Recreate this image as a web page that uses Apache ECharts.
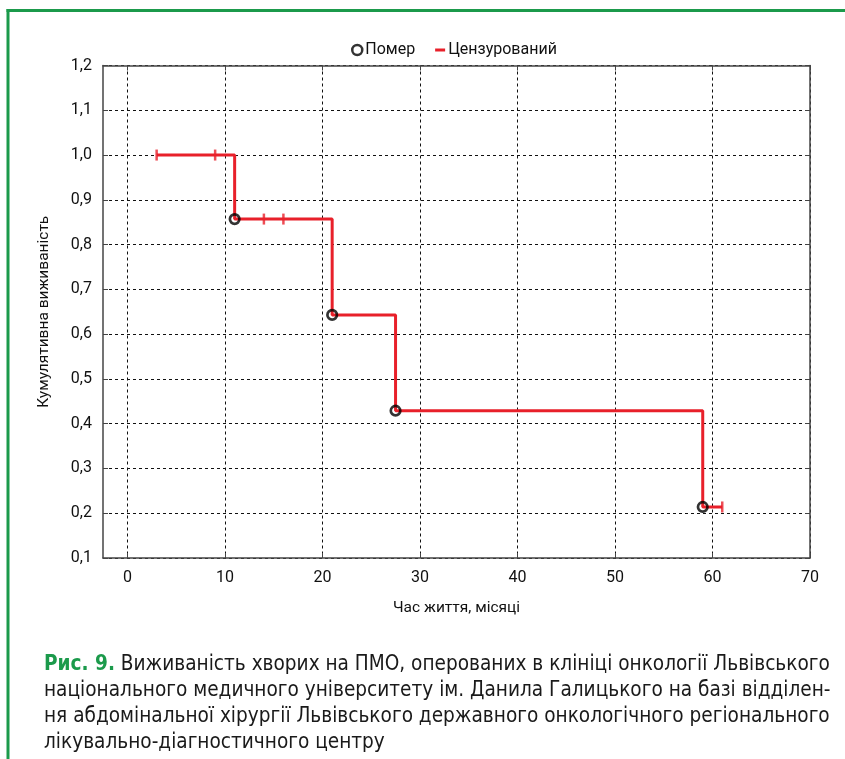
<!DOCTYPE html>
<html><head><meta charset="utf-8">
<script src="https://cdn.jsdelivr.net/npm/echarts@6/dist/echarts.min.js"></script>
<style>html,body{margin:0;padding:0;background:#fff}#c{width:845px;height:759px}</style>
</head><body><div id="c"></div>
<script>
// KM step curve
const stepTimes = [3, 11, 21, 27.5, 59, 61];
const stepSurv  = [1.0, 0.857, 0.643, 0.429, 0.214, 0.214];
// deaths
const deathTimes = [11, 21, 27.5, 59];
const deathSurv  = [0.857, 0.643, 0.429, 0.214];
// censored
const censTimes = [3, 9, 14, 16, 61];
const censSurv  = [1.0, 1.0, 0.857, 0.857, 0.214];
// ticks
const xTicks = [0, 10, 20, 30, 40, 50, 60, 70];
const yTicks = [0.1, 0.2, 0.3, 0.4, 0.5, 0.6, 0.7, 0.8, 0.9, 1.0, 1.1, 1.2];
const captionLines = [
  "Виживаність хворих на ПМО, оперованих в клініці онкології Львівського",
  "національного медичного університету ім. Данила Галицького на базі відділен-",
  "ня абдомінальної хірургії Львівського державного онкологічного регіонального",
  "лікувально-діагностичного центру"
];

const chart = echarts.init(document.getElementById('c'));
const FONT = 'Roboto, "Noto Sans", sans-serif';
const CAPFONT = '"Liberation Sans Narrow", "DejaVu Sans Condensed", "Liberation Sans", sans-serif';
const green = '#1b9a4b';
const red = '#e8202a';
const fmt = v => (Math.round(v*10)/10).toFixed(1).replace('.', ',');
const zip = (a, b) => a.map((v, i) => [v, b[i]]);

const gridLine = {show: true, lineStyle: {color: '#111', type: [3, 3], width: 1}};
const axisLine = {show: true, onZero: false, lineStyle: {color: '#444', width: 1.5}};

chart.setOption({
  animation: false,
  textStyle: {fontFamily: FONT},
  legend: {
    top: 37, left: 346, itemGap: 20, itemWidth: 10, itemHeight: 10,
    textStyle: {fontFamily: FONT, fontSize: 16, color: '#111', padding: [0, 0, 0, -2]},
    data: [
      {name: 'Помер', icon: 'circle', itemStyle: {color: '#fff', borderColor: '#000', borderWidth: 2.5}},
      {name: 'Цензурований', icon: 'path://M0,3.5 L10,3.5 L10,6.5 L0,6.5 Z', itemStyle: {color: red}}
    ]
  },
  grid: {left: 103, right: 35, top: 65.5, bottom: 201, show: false},
  xAxis: [{
    type: 'value', min: -2.5, max: 70, position: 'bottom',
    name: 'Час життя, місяці', nameLocation: 'middle', nameGap: 42,
    nameTextStyle: {fontSize: 15.5, color: '#111', fontFamily: FONT},
    axisLine: axisLine,
    axisTick: {show: true, inside: true, length: 5, customValues: xTicks, lineStyle: {color: '#444'}},
    axisLabel: {customValues: xTicks, fontSize: 16, color: '#111', margin: 12},
    splitLine: gridLine
  }, {
    type: 'value', min: -2.5, max: 70, position: 'top',
    axisLine: axisLine,
    axisTick: {show: true, inside: true, length: 5, customValues: xTicks, lineStyle: {color: '#444'}},
    axisLabel: {show: false, customValues: xTicks},
    splitLine: {show: false}
  }],
  yAxis: [{
    type: 'value', min: 0.1, max: 1.2, interval: 0.1, position: 'left',
    name: 'Кумулятивна виживаність', nameLocation: 'middle', nameGap: 51,
    nameTextStyle: {fontSize: 15.5, color: '#111', fontFamily: FONT},
    axisLine: axisLine,
    axisTick: {show: true, inside: true, length: 5, lineStyle: {color: '#444'}},
    axisLabel: {formatter: fmt, fontSize: 16, color: '#111', margin: 11},
    splitLine: gridLine
  }, {
    type: 'value', min: 0.1, max: 1.2, interval: 0.1, position: 'right',
    axisLine: axisLine,
    axisTick: {show: true, inside: true, length: 5, lineStyle: {color: '#444'}},
    axisLabel: {show: false},
    splitLine: {show: false}
  }],
  series: [{
    type: 'line', name: 'Цензурований', step: 'end', data: zip(stepTimes, stepSurv),
    showSymbol: false, symbol: 'none', lineStyle: {color: red, width: 3}, z: 3
  }, {
    type: 'scatter', name: 'Цензурований', data: zip(censTimes, censSurv),
    symbol: 'rect', symbolSize: [2.5, 11], itemStyle: {color: red}, z: 4
  }, {
    type: 'scatter', name: 'Помер', data: zip(deathTimes, deathSurv),
    symbol: 'circle', symbolSize: 9.5,
    itemStyle: {color: 'rgba(255,255,255,0)', borderColor: '#000', borderWidth: 2.7}, z: 5
  }],
  graphic: [
    {type: 'rect', shape: {x: 6.5, y: 9, width: 845, height: 3}, style: {fill: green}},
    {type: 'rect', shape: {x: 6.5, y: 9, width: 3, height: 760}, style: {fill: green}},
    {type: 'text', left: 44, top: 654, style: {
      text: '{b|Рис. 9.} ' + captionLines[0],
      rich: {b: {fontFamily: CAPFONT, fontSize: 20.6, fill: green, fontWeight: 700}},
      font: '20.6px ' + CAPFONT, fill: '#1a1a1a'}},
    {type: 'text', left: 44, top: 680, style: {text: captionLines[1], font: '20.6px ' + CAPFONT, fill: '#1a1a1a'}},
    {type: 'text', left: 44, top: 706, style: {text: captionLines[2], font: '20.6px ' + CAPFONT, fill: '#1a1a1a'}},
    {type: 'text', left: 44, top: 732, style: {text: captionLines[3], font: '20.6px ' + CAPFONT, fill: '#1a1a1a'}}
  ]
});
</script></body></html>
